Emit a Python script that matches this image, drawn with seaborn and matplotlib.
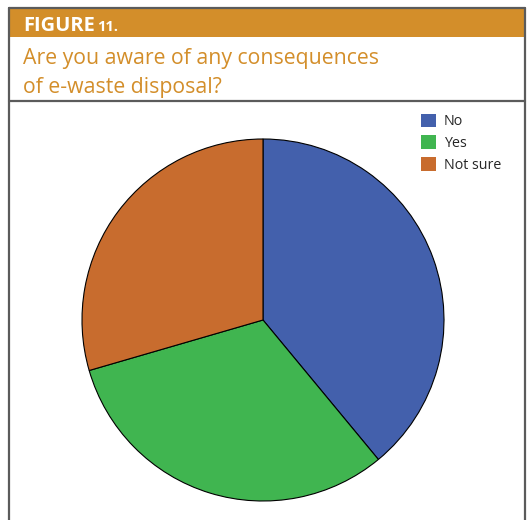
import matplotlib
matplotlib.use("Agg")
import matplotlib.pyplot as plt
import seaborn as sns
from matplotlib.patches import Rectangle, Patch
from matplotlib.lines import Line2D

# data
answers = ["No", "Yes", "Not sure"]
shares = [39.0, 31.5, 29.5]
slice_colors = ["#4360AC", "#40B550", "#C86C2E"]

title_line1 = "Are you aware of any consequences"
title_line2 = "of e-waste disposal?"

sns.set_style("white")
plt.rcParams["font.family"] = ["Open Sans", "DejaVu Sans"]

W, H = 531, 520
fig = plt.figure(figsize=(W / 100, H / 100), dpi=100)

def fx(px):
    return px / W

def fy(py):
    return 1 - py / H

orange = "#D38E2A"
frame_gray = "#5B5B5B"

# header band
fig.patches.append(Rectangle((fx(9), fy(37)), fx(516), 28 / H,
                             transform=fig.transFigure, facecolor=orange,
                             edgecolor="none", zorder=0))
# frame lines
for xs, ys in [([9, 525], [8, 8]), ([9, 9], [8, 520]), ([525, 525], [8, 520]),
               ([9, 525], [100.5, 100.5])]:
    fig.add_artist(Line2D([fx(v) for v in xs], [fy(v) for v in ys],
                          transform=fig.transFigure, color=frame_gray, lw=1.6))

fig.text(fx(23), fy(31), "FIGURE", color="white", fontsize=14.5,
         fontweight="bold", va="baseline", ha="left")
fig.text(fx(97), fy(31), "11.", color="white", fontsize=10.5,
         fontweight="bold", va="baseline", ha="left")

fig.text(fx(23), fy(64), title_line1, color=orange, fontsize=15.3,
         va="baseline", ha="left")
fig.text(fx(23), fy(93), title_line2, color=orange, fontsize=15.3,
         va="baseline", ha="left")

# pie axes: center (263, 320), radius 181 px
r = 181
ax = fig.add_axes([fx(263 - r), fy(320 + r), 2 * r / W, 2 * r / H])
wedges, _ = ax.pie(shares, colors=slice_colors, startangle=90,
                   counterclock=False,
                   wedgeprops=dict(edgecolor="black", linewidth=0.8))
ax.set_xlim(-1, 1)
ax.set_ylim(-1, 1)
ax.set_aspect("equal")
ax.axis("off")

handles = [Patch(facecolor=c, edgecolor="none") for c in slice_colors]
fig.legend(handles, answers, loc="upper left",
           bbox_to_anchor=(fx(415), fy(108)), frameon=False, fontsize=10.3,
           handlelength=1.1, handleheight=1.1, handletextpad=0.5,
           labelspacing=0.42, borderaxespad=0)

fig.savefig("out.png", dpi=100)
